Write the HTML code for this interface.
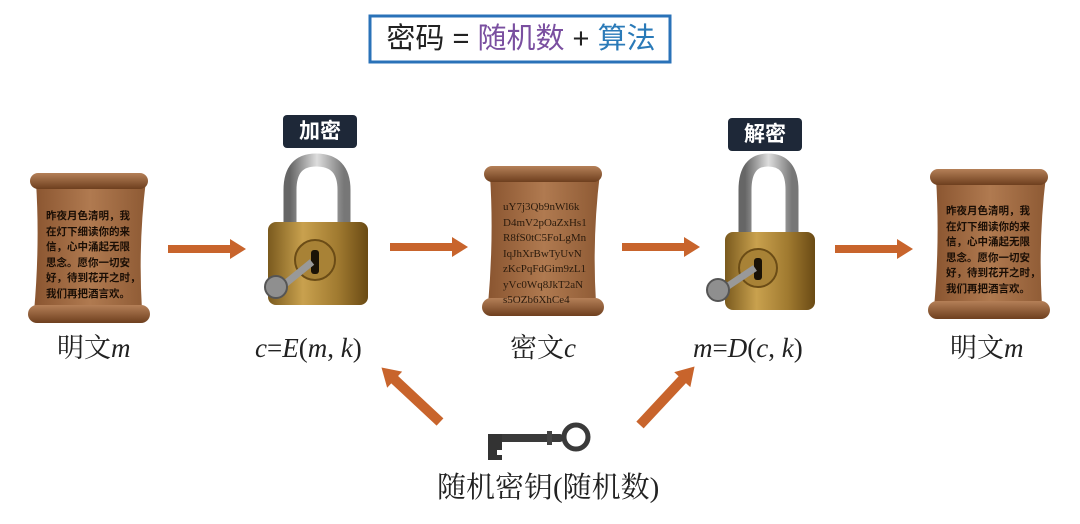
<!DOCTYPE html>
<html><head><meta charset="utf-8"><style>
html,body{margin:0;padding:0;background:#fff;}
body{width:1080px;height:524px;position:relative;overflow:hidden;font-family:"Liberation Serif","Noto Serif CJK SC",serif;}
.lbl{position:absolute;font-size:27px;color:#222;white-space:nowrap;line-height:1;}
.lbl i{font-style:italic;}
.sc{position:absolute;font-family:"Liberation Sans","Noto Sans CJK SC",sans-serif;font-size:10.5px;line-height:15.5px;color:#1a0e05;font-weight:bold;}
.sc2{position:absolute;font-family:"Liberation Serif",serif;font-size:11px;line-height:15.5px;color:#2a1a0c;}
.tag{position:absolute;background:#1e2838;color:#fff;font-family:"Liberation Sans","Noto Sans CJK SC",sans-serif;font-weight:bold;font-size:21px;border-radius:4px;text-align:center;line-height:33px;height:33px;width:74px;}
</style></head><body>
<svg width="1080" height="524" style="position:absolute;left:0;top:0">
<defs>
<linearGradient id="par" x1="0" x2="1"><stop offset="0" stop-color="#8a5530"/><stop offset="0.5" stop-color="#b07a50"/><stop offset="1" stop-color="#8e5a34"/></linearGradient>
<linearGradient id="roll" x1="0" y1="0" x2="0" y2="1"><stop offset="0" stop-color="#b58058"/><stop offset="1" stop-color="#6e3f1e"/></linearGradient>
<linearGradient id="gold" x1="0" x2="1"><stop offset="0" stop-color="#7a5a1e"/><stop offset="0.35" stop-color="#c9a14e"/><stop offset="0.7" stop-color="#a07a30"/><stop offset="1" stop-color="#6a4a14"/></linearGradient>
<linearGradient id="steel" x1="0" x2="1"><stop offset="0" stop-color="#666"/><stop offset="0.5" stop-color="#ddd"/><stop offset="1" stop-color="#777"/></linearGradient>
<g id="scroll">
<path d="M8 12 Q60 4 118 10 Q110 75 114 140 Q60 134 6 142 Q12 75 8 12 Z" fill="url(#par)"/>
<rect x="2" y="3" width="118" height="16" rx="8" fill="url(#roll)"/>
<rect x="0" y="135" width="122" height="18" rx="9" fill="url(#roll)"/>
</g>
<g id="arrow"><path d="M0 -4 L62 -4 L62 -10 L78 0 L62 10 L62 4 L0 4 Z" fill="#c8642c"/></g>
</defs>
<rect x="370" y="16" width="300" height="46" fill="#fff" stroke="#2a72b8" stroke-width="3"/>
<use href="#scroll" x="28" y="170"/>
<use href="#scroll" x="482" y="163"/>
<use href="#scroll" x="928" y="166"/>
<use href="#arrow" x="168" y="249"/>
<use href="#arrow" x="390" y="247"/>
<use href="#arrow" x="622" y="247"/>
<use href="#arrow" x="835" y="249"/>
<!-- left lock -->
<path d="M290 226 L290 190 Q290 160 316 160 Q344 160 344 190 L344 226" fill="none" stroke="url(#steel)" stroke-width="13"/>
<rect x="268" y="222" width="100" height="83" rx="8" fill="url(#gold)"/>
<circle cx="315" cy="260" r="20" fill="#a88236" stroke="#6b4c16" stroke-width="2"/>
<rect x="311" y="250" width="8" height="24" rx="3" fill="#1a1206"/>
<path d="M280 288 L312 262" stroke="#999" stroke-width="7"/>
<circle cx="276" cy="287" r="11" fill="#8f8f8f" stroke="#555" stroke-width="2"/>
<!-- right lock -->
<path d="M745 235 L745 190 Q745 160 768 160 Q792 160 792 190 L792 235" fill="none" stroke="url(#steel)" stroke-width="13"/>
<rect x="725" y="232" width="90" height="78" rx="8" fill="url(#gold)"/>
<circle cx="758" cy="268" r="19" fill="#a88236" stroke="#6b4c16" stroke-width="2"/>
<rect x="754" y="258" width="8" height="22" rx="3" fill="#1a1206"/>
<path d="M722 290 L755 268" stroke="#999" stroke-width="7"/>
<circle cx="718" cy="290" r="11" fill="#8f8f8f" stroke="#555" stroke-width="2"/>
<!-- diagonal arrows -->
<g transform="translate(440,422) rotate(-137)"><path d="M0 -5 L62 -5 L62 -11 L80 0 L62 11 L62 5 L0 5 Z" fill="#c8642c"/></g>
<g transform="translate(640,425) rotate(-47)"><path d="M0 -5 L62 -5 L62 -11 L80 0 L62 11 L62 5 L0 5 Z" fill="#c8642c"/></g>
<!-- key -->
<rect x="488" y="434" width="75" height="8" rx="3" fill="#3a3a3a"/>
<path d="M488 434 L502 434 L502 450 L497 450 L497 455 L502 455 L502 460 L488 460 Z" fill="#333"/>
<rect x="547" y="431" width="5" height="14" fill="#444"/>
<circle cx="576" cy="437" r="12" fill="none" stroke="#3a3a3a" stroke-width="5"/>
</svg>
<div style="position:absolute;left:370px;top:18px;width:302px;text-align:center;font-family:'Liberation Sans','Noto Sans CJK SC',sans-serif;font-size:29px;line-height:42px;color:#222">密码 = <span style="color:#7a4fa0">随机数</span> + <span style="color:#2a7ab8">算法</span></div>
<div class="tag" style="left:283px;top:115px">加密</div>
<div class="tag" style="left:728px;top:118px">解密</div>
<div class="sc" style="left:46px;top:209px">昨夜月色清明，我<br>在灯下细读你的来<br>信，心中涌起无限<br>思念。愿你一切安<br>好，待到花开之时，<br>我们再把酒言欢。</div>
<div class="sc" style="left:946px;top:204px">昨夜月色清明，我<br>在灯下细读你的来<br>信，心中涌起无限<br>思念。愿你一切安<br>好，待到花开之时，<br>我们再把酒言欢。</div>
<div class="sc2" style="left:503px;top:200px">uY7j3Qb9nWl6k<br>D4mV2pOaZxHs1<br>R8fS0tC5FoLgMn<br>IqJhXrBwTyUvN<br>zKcPqFdGim9zL1<br>yVc0Wq8JkT2aN<br>s5OZb6XhCe4</div>
<div class="lbl" style="left:57px;top:335px">明文<i>m</i></div>
<div class="lbl" style="left:255px;top:335px"><i>c</i>=<i>E</i>(<i>m</i>, <i>k</i>)</div>
<div class="lbl" style="left:510px;top:335px">密文<i>c</i></div>
<div class="lbl" style="left:693px;top:335px"><i>m</i>=<i>D</i>(<i>c</i>, <i>k</i>)</div>
<div class="lbl" style="left:950px;top:335px">明文<i>m</i></div>
<div class="lbl" style="left:437px;top:474px;font-size:29px">随机密钥(随机数)</div>
</body></html>
